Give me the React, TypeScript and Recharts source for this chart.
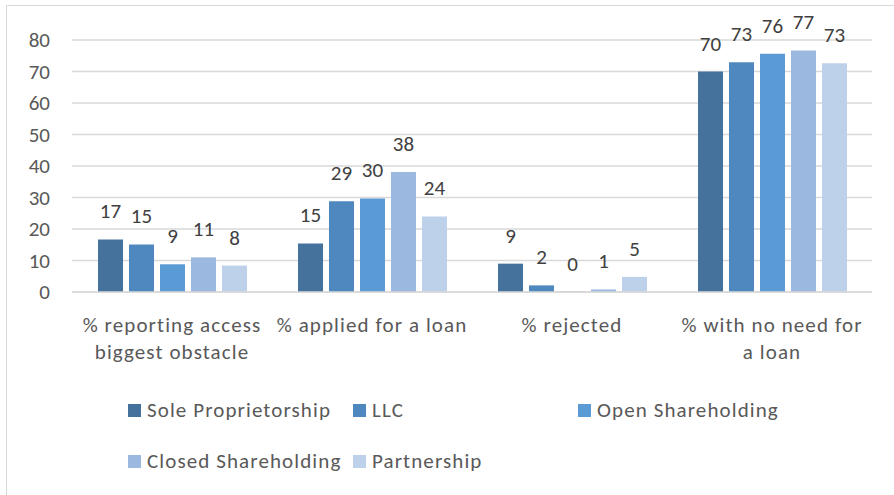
import React from "react"
import { BarChart, CartesianGrid, XAxis, YAxis, Bar, LabelList } from "recharts"

const categories = [
    "% reporting access\nbiggest obstacle",
    "% applied for a loan",
    "% rejected",
    "% with no need for\na loan",
]
const soleProprietorship = [16.7, 15.4, 9.0, 70.0]
const llc = [15.1, 28.8, 2.1, 72.9]
const openShareholding = [8.8, 29.7, 0.1, 75.6]
const closedShareholding = [11.0, 38.1, 0.8, 76.7]
const partnership = [8.4, 24.0, 4.8, 72.6]
const yTicks = [0, 10, 20, 30, 40, 50, 60, 70, 80]

const series = [
    { key: "sole", name: "Sole Proprietorship", values: soleProprietorship, color: "#44729D" },
    { key: "llc", name: "LLC", values: llc, color: "#4E88BF" },
    { key: "open", name: "Open Shareholding", values: openShareholding, color: "#5B9BD5" },
    { key: "closed", name: "Closed Shareholding", values: closedShareholding, color: "#9BB9E0" },
    { key: "partner", name: "Partnership", values: partnership, color: "#BDD1EA" },
]

const data = categories.map((name, i) => {
    const row: any = { name }
    series.forEach(s => { row[s.key] = s.values[i] })
    return row
})

const FONT = "Carlito, Lato, 'Liberation Sans', sans-serif"

const CategoryTick = (props: any) => {
    const { x, y, payload } = props
    const lines = String(payload.value).split("\n")
    return (
        <text x={x} y={y} textAnchor="middle" fill="#595959" fontSize={21} letterSpacing={1.1} fontFamily={FONT}>
            {lines.map((line, i) => (
                <tspan key={i} x={x} y={y + 38 + i * 27}>{line}</tspan>
            ))}
        </text>
    )
}

// value labels above each bar, rounded like the source
const ValueLabel = (props: any) => {
    const { x, y, width, value } = props
    if (value === undefined || value === null) return null
    return (
        <text x={x + width / 2} y={y - 21} textAnchor="middle" fill="#404040" fontSize={21} fontFamily={FONT}>
            {String(Math.round(Number(value)))}
        </text>
    )
}

const legendCols = [128, 353, 578]
const legendRows = [410, 461]

export default function App() {
    return (
        <div style={{ position: "fixed", left: 0, top: 0, width: 894, height: 495, overflow: "hidden", background: "#fff", fontFamily: FONT }}>
            <div style={{ position: "absolute", left: 6, top: 5, width: 1000, height: 600, borderLeft: "1px solid #D9D9D9", borderTop: "1px solid #D9D9D9" }} />
            <div style={{ position: "absolute", left: 0, top: 0 }}>
                <BarChart
                    width={894}
                    height={495}
                    data={data}
                    margin={{ top: 40, right: 22, bottom: 123, left: 0 }}
                    barCategoryGap={26}
                    barGap={6}
                >
                    <CartesianGrid vertical={false} stroke="#D9D9D9" strokeWidth={1.3} />
                    <XAxis
                        dataKey="name"
                        height={80}
                        tick={<CategoryTick />}
                        tickLine={false}
                        tickSize={0}
                        axisLine={{ stroke: "#D9D9D9", strokeWidth: 1.3 }}
                        interval={0}
                    />
                    <YAxis
                        width={72}
                        domain={[0, 80]}
                        ticks={yTicks}
                        tickLine={false}
                        axisLine={false}
                        tickSize={0}
                        tickMargin={22}
                        tick={{ fill: "#595959", fontSize: 21, fontFamily: FONT }}
                    />
                    {series.map(s => (
                        <Bar key={s.key} dataKey={s.key} name={s.name} fill={s.color} isAnimationActive={false}>
                            <LabelList dataKey={s.key} content={<ValueLabel />} />
                        </Bar>
                    ))}
                </BarChart>
            </div>
            {series.map((s, i) => (
                <div
                    key={s.key}
                    style={{
                        position: "absolute",
                        left: legendCols[i % 3],
                        top: legendRows[Math.floor(i / 3)] - 13,
                        height: 26,
                        display: "flex",
                        alignItems: "center",
                        whiteSpace: "nowrap",
                        color: "#595959",
                        fontSize: 21,
                        letterSpacing: 1.1,
                    }}
                >
                    <span style={{ display: "inline-block", width: 13, height: 13, background: s.color, marginRight: 6 }} />
                    <span>{s.name}</span>
                </div>
            ))}
        </div>
    )
}
